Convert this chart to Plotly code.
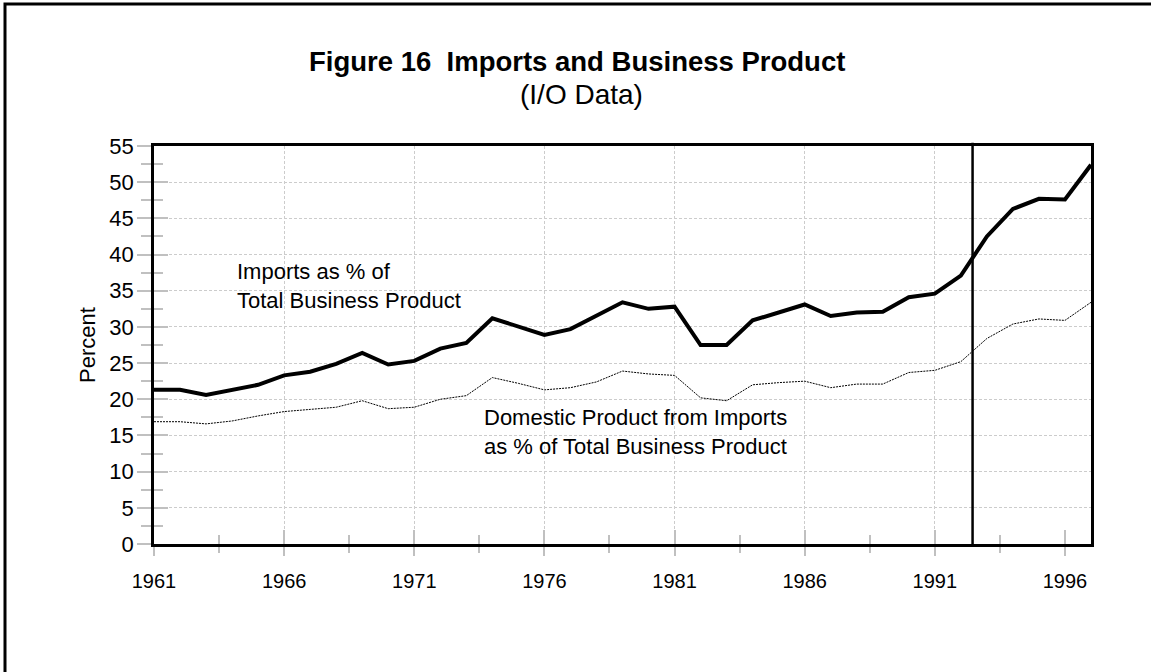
import plotly.graph_objects as go

years = list(range(1961, 1998))
imports_pct = [21.3, 21.3, 20.6, 21.3, 22.0, 23.3, 23.8, 24.9, 26.4, 24.8,
               25.3, 27.0, 27.8, 31.2, 30.1, 28.9, 29.7, 31.5, 33.4, 32.5,
               32.8, 27.5, 27.5, 30.9, 32.0, 33.1, 31.5, 32.0, 32.1, 34.1,
               34.6, 37.1, 42.5, 46.3, 47.7, 47.6, 52.4]
domestic_pct = [16.9, 16.9, 16.6, 17.0, 17.7, 18.3, 18.6, 18.9, 19.8, 18.7,
                18.9, 20.0, 20.5, 23.0, 22.2, 21.3, 21.6, 22.4, 23.9, 23.5,
                23.3, 20.2, 19.8, 22.0, 22.3, 22.5, 21.6, 22.1, 22.1, 23.7,
                24.0, 25.2, 28.4, 30.4, 31.1, 30.9, 33.4]
x_tick_vals = [1961, 1966, 1971, 1976, 1981, 1986, 1991, 1996]
x_grid_vals = [1966, 1971, 1976, 1981, 1986, 1991]
y_tick_vals = list(range(0, 56, 5))
BREAK_YEAR = 1992.45

FONT = "Liberation Sans, Arial, sans-serif"
W, H = 1151, 672
ML, MR, MT, MB = 154, 60, 146, 128
PW, PH = W - ML - MR, H - MT - MB
TICK_GREY = "#c0c0c0"
GRID_GREY = "#cccccc"
GRID_DASH = "3px,2px"

fig = go.Figure()
fig.add_trace(go.Scatter(x=years, y=domestic_pct, mode="lines",
                         line=dict(color="black", width=1, dash="2px,1px"),
                         showlegend=False, hoverinfo="x+y"))
fig.add_trace(go.Scatter(x=years, y=imports_pct, mode="lines",
                         line=dict(color="black", width=4),
                         showlegend=False, hoverinfo="x+y"))
# dummy traces for overlay axes
fig.add_trace(go.Scatter(x=[None], y=[None], xaxis="x2", yaxis="y2", showlegend=False))
fig.add_trace(go.Scatter(x=[None], y=[None], xaxis="x3", yaxis="y2", showlegend=False))

fig.add_shape(type="line", x0=BREAK_YEAR, x1=BREAK_YEAR, xref="x", y0=0, y1=1.008, yref="paper",
              line=dict(color="black", width=2.5), layer="above")

# outer frame
fx0 = (5 - ML) / PW
fx1 = (W + 10 - ML) / PW
fy1 = (H - MB - 4) / PH
fy0 = -(MB + 10) / PH
fig.add_shape(type="rect", xref="paper", yref="paper", x0=fx0, x1=fx1, y0=fy0, y1=fy1,
              line=dict(color="black", width=3), fillcolor="rgba(0,0,0,0)", layer="below")

x_tick_font = dict(family=FONT, size=20, color="black")
y_tick_font = dict(family=FONT, size=22, color="black")

fig.update_layout(
    width=W, height=H,
    margin=dict(l=ML, r=MR, t=MT, b=MB, autoexpand=False),
    paper_bgcolor="white", plot_bgcolor="white",
    font=dict(family=FONT, color="black"),
    xaxis=dict(range=[1961, 1997], tickvals=x_tick_vals, ticks="outside", ticklen=9,
               tickwidth=2, tickcolor=TICK_GREY,
               minor=dict(dtick=2.5, tick0=1961, ticks="outside", ticklen=6, tickwidth=2,
                          tickcolor=TICK_GREY, showgrid=False),
               showgrid=False, zeroline=False, showline=True, linewidth=2.5, linecolor="black",
               mirror=True, tickfont=x_tick_font, ticklabelstandoff=8),
    xaxis2=dict(range=[1961, 1997], overlaying="x", anchor="y", side="bottom",
                tickvals=x_tick_vals, ticks="inside", ticklen=14, tickwidth=2, tickcolor=TICK_GREY,
                minor=dict(dtick=2.5, tick0=1961, ticks="inside", ticklen=9, tickwidth=2,
                           tickcolor=TICK_GREY, showgrid=False),
                showticklabels=False, showgrid=False, zeroline=False, showline=False),
    xaxis3=dict(range=[1961, 1997], overlaying="x", anchor="y", tickvals=x_grid_vals,
                ticks="", showticklabels=False, showgrid=True, gridcolor=GRID_GREY,
                gridwidth=1, griddash=GRID_DASH, zeroline=False, showline=False, layer="below traces"),
    yaxis=dict(range=[0, 55], tickvals=y_tick_vals, ticks="outside", ticklen=14, tickwidth=2,
               tickcolor=TICK_GREY,
               minor=dict(dtick=2.5, tick0=0, ticks="outside", ticklen=10, tickwidth=2,
                          tickcolor=TICK_GREY, showgrid=False),
               showgrid=True, gridcolor=GRID_GREY, gridwidth=1, griddash=GRID_DASH,
               zeroline=False, showline=True, linewidth=2.5, linecolor="black", mirror=True,
               tickfont=y_tick_font, ticklabelstandoff=-1,
               title=dict(text="Percent", font=dict(family=FONT, size=22, color="black"), standoff=8)),
    yaxis2=dict(range=[0, 55], overlaying="y", anchor="x", side="left", tickvals=y_tick_vals,
                ticks="inside", ticklen=14, tickwidth=2, tickcolor=TICK_GREY,
                minor=dict(dtick=2.5, tick0=0, ticks="inside", ticklen=9, tickwidth=2,
                           tickcolor=TICK_GREY, showgrid=False),
                showticklabels=False, showgrid=False, zeroline=False, showline=False),
)

fig.add_annotation(text="<b>Figure 16  Imports and Business Product</b>", xref="paper", yref="paper",
                   x=(577 - ML) / PW, y=(H - MB - 62) / PH, xanchor="center", yanchor="middle",
                   showarrow=False, font=dict(family=FONT, size=27.5, color="black"))
fig.add_annotation(text="(I/O Data)", xref="paper", yref="paper",
                   x=(581 - ML) / PW, y=(H - MB - 94) / PH, xanchor="center", yanchor="middle",
                   showarrow=False, font=dict(family=FONT, size=28, color="black"))
fig.add_annotation(text="Imports as % of<br>Total Business Product", xref="x", yref="y",
                   x=1964.1, y=39.6, xanchor="left", yanchor="top", align="left",
                   showarrow=False, font=dict(family=FONT, size=22, color="black"))
fig.add_annotation(text="Domestic Product from Imports<br>as % of Total Business Product", xref="x", yref="y",
                   x=1973.6, y=19.5, xanchor="left", yanchor="top", align="left",
                   showarrow=False, font=dict(family=FONT, size=22, color="black"))

fig.write_html("out.html", config={"displayModeBar": False},
               post_script="document.body.style.margin='0';")
